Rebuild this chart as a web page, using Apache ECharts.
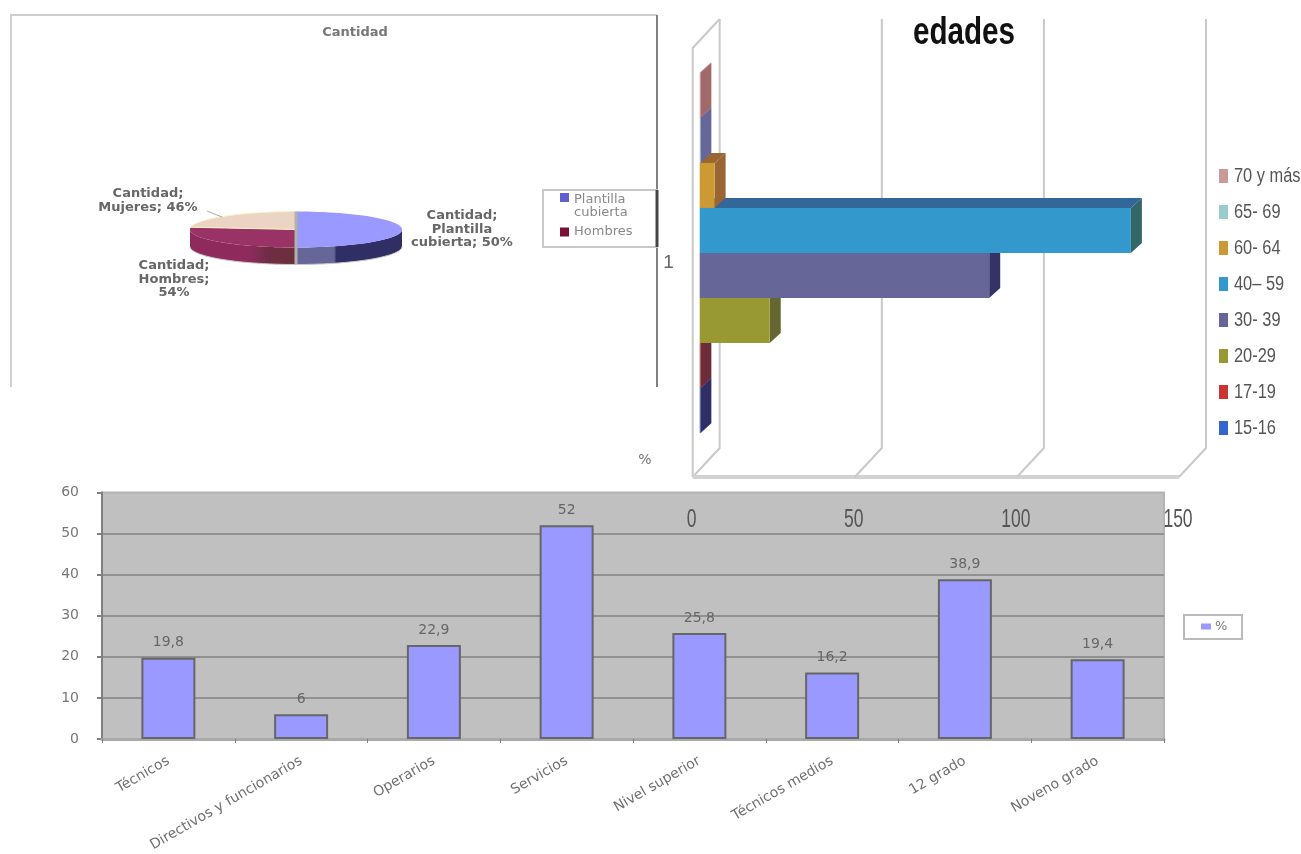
<!DOCTYPE html>
<html>
<head>
<meta charset="utf-8">
<title>Plantilla</title>
<style>html,body{margin:0;padding:0;background:#fff}#c{width:1301px;height:854px}</style>
<script src="https://cdn.jsdelivr.net/npm/echarts@6/dist/echarts.min.js"></script>
</head>
<body>
<div id="c"></div>
<script>
// Pie: staff covered is a share of the whole; men and women split the remainder
const pieNames = ['Plantilla cubierta', 'Hombres', 'Mujeres'];
const piePercent = [50, 54, 46];

// Age groups, drawn from the bottom of the stack upwards
const ageGroups = ['15-16', '17-19', '20-29', '30- 39', '40– 59', '60- 64', '65- 69', '70 y más'];
const ageValues = [0.2, 0.2, 21.6, 89.3, 133, 4.6, 0.2, 0.2];
const ageCategory = ['1'];
const ageTicks = [0, 50, 100, 150];

// Workforce percentages
const staffCategories = ['Técnicos', 'Directivos y funcionarios', 'Operarios', 'Servicios',
  'Nivel superior', 'Técnicos medios', '12 grado', 'Noveno grado'];
const staffValues = [19.8, 6, 22.9, 52, 25.8, 16.2, 38.9, 19.4];

const ageFront = ['#3366cc', '#cc3333', '#999933', '#666699', '#3399cc', '#cc9933', '#99cccc', '#cc9999'];
const ageSide = ['#2f2f66', '#6b2d3a', '#666633', '#333366', '#336666', '#996633', '#666699', '#a06a6a'];
const ageTop = ['#2f2f66', '#6b2d3a', '#666633', '#333366', '#336699', '#996633', '#666699', '#a06a6a'];

const SANS = '"Liberation Sans",sans-serif';
const WIDE = '"DejaVu Sans",sans-serif';
const DEPTH = { dx: 27, dy: -29 };
const BAR = { inset: 7, lift: 9.5, dx: 11, dy: -10, fill: 0.84 };
const AGE_KEY = { x: 1234, top: 176, step: 36, scale: 0.82 };

// Sweep of each slice as a fraction of the full turn
function pieFractions() {
  const whole = piePercent[0] / 100;
  const rest = 1 - whole;
  const split = piePercent[1] + piePercent[2];
  return [whole, rest * piePercent[1] / split, rest * piePercent[2] / split];
}
const PIE = { cx: 296, cy: 229.5, rx: 106, ry: 18, h: 17 };
const pieLabels = [
  { text: 'Cantidad;\nPlantilla\ncubierta; ' + piePercent[0] + '%', dx: 166, dy: 0 },
  { text: 'Cantidad;\nHombres;\n' + piePercent[1] + '%', dx: -122, dy: 50 },
  { text: 'Cantidad;\nMujeres; ' + piePercent[2] + '%', dx: -148, dy: -29 }
];
const pieTop = ['#9999ff', '#993366', '#ecd4c4'];

function ellipsePoint(t, dropY) {
  const a = t * Math.PI * 2;
  return [PIE.cx + PIE.rx * Math.sin(a), PIE.cy - PIE.ry * Math.cos(a) + (dropY || 0)];
}

function sideFill(i) {
  if (i === 0) {
    return new echarts.graphic.LinearGradient(0, 0, 1, 0, [
      { offset: 0, color: '#666699' }, { offset: 0.36, color: '#666699' },
      { offset: 0.38, color: '#2f2f66' }, { offset: 1, color: '#2f2f66' }]);
  }
  return new echarts.graphic.LinearGradient(0, 0, 1, 0, [
    { offset: 0, color: '#8f2b5c' }, { offset: 0.55, color: '#8f2b5c' },
    { offset: 0.75, color: '#6f2d45' }, { offset: 1, color: '#6b2f3a' }]);
}

function renderSlice(params) {
  const i = params.seriesIndex - pieSeriesStart;
  const fr = pieFractions();
  let start = 0;
  for (let k = 0; k < i; k++) start += fr[k];
  const end = start + fr[i];
  const children = [];
  const steps = 60;
  const arc = [];
  for (let s = 0; s <= steps; s++) arc.push(start + (end - start) * s / steps);

  // Rim of the disc: only the part of the arc facing the viewer
  const front = arc.filter(t => t >= 0.25 && t <= 0.75);
  if (front.length > 1) {
    const pts = front.map(t => ellipsePoint(t, 0))
      .concat(front.slice().reverse().map(t => ellipsePoint(t, PIE.h)));
    children.push({ type: 'polygon', shape: { points: pts }, style: { fill: sideFill(i) } });
    children.push({
      type: 'polyline',
      shape: { points: front.map(t => ellipsePoint(t, PIE.h)) },
      style: { fill: 'none', stroke: '#c8c8c8', lineWidth: 1 }
    });
  }
  const top = [[PIE.cx, PIE.cy]].concat(arc.map(t => ellipsePoint(t, 0)));
  children.push({ type: 'polygon', shape: { points: top }, style: { fill: pieTop[i], stroke: i === 2 ? '#fbf3c4' : 'none', lineWidth: 1 } });

  // Seam between the covered half and the rest of the disc
  if (i === 2) {
    children.push({
      type: 'line',
      shape: { x1: PIE.cx, y1: PIE.cy - PIE.ry, x2: PIE.cx, y2: PIE.cy + PIE.ry + PIE.h },
      style: { stroke: '#b2b2aa', lineWidth: 3 }
    });
    children.push({
      type: 'line',
      shape: { x1: 207, y1: 211, x2: 222, y2: 217 },
      style: { stroke: '#aaaaaa', lineWidth: 1 }
    });
  }
  const lab = pieLabels[i];
  children.push({
    type: 'text',
    style: {
      text: lab.text, x: PIE.cx + lab.dx, y: PIE.cy + lab.dy, align: 'center', verticalAlign: 'middle',
      font: 'bold 13px ' + WIDE, fill: '#666666', lineHeight: 13.5
    }
  });
  return { type: 'group', children };
}

// Back wall and floor of the bar box, one element per tick of the value axis.
// The tick labels are condensed here because no narrow face is installed.
function renderWall(params, api) {
  const v = api.value(0);
  const x = api.coord([v, 0])[0];
  const cs = params.coordSys;
  const top = cs.y, bottom = cs.y + cs.height;
  const stroke = { stroke: '#c9c9c9', lineWidth: 2, fill: 'none' };
  const children = [{
    type: 'polyline',
    shape: { points: [[x, bottom], [x + DEPTH.dx, bottom + DEPTH.dy], [x + DEPTH.dx, top + DEPTH.dy]] },
    style: stroke
  }, {
    type: 'text', x: x - 1, y: bottom + 43, scaleX: 0.7,
    style: { text: String(v), align: 'center', verticalAlign: 'middle', font: '25px ' + SANS, fill: '#555555' }
  }];
  if (v === 0) {
    children.push({
      type: 'polyline',
      shape: { points: [[x + DEPTH.dx, top + DEPTH.dy], [x, top], [x, bottom]] },
      style: stroke
    });
    children.push({
      type: 'line',
      shape: { x1: x, y1: bottom, x2: api.coord([ageTicks[ageTicks.length - 1], 0])[0], y2: bottom },
      style: { stroke: '#d2d2d2', lineWidth: 4 }
    });
  }
  return { type: 'group', children };
}

function renderAgeBar(params, api) {
  const i = params.seriesIndex - ageSeriesStart;
  const n = ageGroups.length;
  const zero = api.coord([0, 0]);
  const end = api.coord([api.value(0), 0]);
  const slot = api.size([0, 1])[1] * BAR.fill / n;
  const mid = zero[1] - BAR.lift;
  const y0 = mid + slot * (n / 2 - i - 1);
  const y1 = y0 + slot;
  const x0 = zero[0] + BAR.inset;
  const x1 = end[0] + BAR.inset;
  return {
    type: 'group',
    children: [
      { type: 'polygon', shape: { points: [[x0, y0], [x0 + BAR.dx, y0 + BAR.dy], [x1 + BAR.dx, y0 + BAR.dy], [x1, y0]] }, style: { fill: ageTop[i] } },
      { type: 'polygon', shape: { points: [[x1, y0], [x1 + BAR.dx, y0 + BAR.dy], [x1 + BAR.dx, y1 + BAR.dy], [x1, y1]] }, style: { fill: ageSide[i] } },
      { type: 'rect', shape: { x: x0, y: y0, width: x1 - x0, height: slot }, style: { fill: ageFront[i] } },
      {
        type: 'text', x: AGE_KEY.x, y: AGE_KEY.top + AGE_KEY.step * (n - 1 - i), scaleX: AGE_KEY.scale,
        style: { text: ageGroups[i], align: 'left', verticalAlign: 'middle', font: '20px ' + SANS, fill: '#555555' }
      }
    ]
  };
}

const series = [];

series.push({
  name: '%', type: 'bar', xAxisIndex: 0, yAxisIndex: 0, data: staffValues, barWidth: 54, z: 3,
  itemStyle: { color: '#9999ff', borderColor: '#666666', borderWidth: 2 },
  label: {
    show: true, position: 'top', distance: 8, color: '#666', fontFamily: WIDE, fontSize: 14,
    formatter: p => String(p.value).replace('.', ',')
  }
});

series.push({
  name: 'muros', type: 'custom', xAxisIndex: 1, yAxisIndex: 1, coordinateSystem: 'cartesian2d',
  renderItem: renderWall, data: ageTicks.map(t => [t, 0]), encode: { x: 0, y: 1 }, clip: false, z: 4, silent: true
});

const ageSeriesStart = series.length;
ageGroups.forEach((name, i) => {
  series.push({
    name, type: 'custom', xAxisIndex: 1, yAxisIndex: 1, coordinateSystem: 'cartesian2d',
    renderItem: renderAgeBar, data: [[ageValues[i], 0]], encode: { x: 0, y: 1 }, clip: false,
    z: 5 + i, itemStyle: { color: ageFront[i] }
  });
});

const pieSeriesStart = series.length;
pieNames.forEach((name, i) => {
  series.push({
    name, type: 'custom', coordinateSystem: 'none', renderItem: renderSlice,
    data: [[piePercent[i]]], z: 20 + i, itemStyle: { color: i === 0 ? '#5f5fd0' : '#7a1035' }
  });
});

const option = {
  animation: false,
  backgroundColor: '#ffffff',
  title: [
    { text: 'Cantidad', left: 350, top: 21, textAlign: 'center', textStyle: { fontFamily: WIDE, fontWeight: 'bold', fontSize: 13, color: '#777' } },
    { text: '%', left: 640, top: 448, textAlign: 'center', textStyle: { fontFamily: WIDE, fontWeight: 'normal', fontSize: 14, color: '#777' } }
  ],
  legend: [
    {
      data: ageGroups.slice().reverse(), orient: 'vertical', left: 1219, top: 169, selectedMode: false,
      itemWidth: 9, itemHeight: 14, itemGap: 22, padding: 0, icon: 'rect',
      formatter: () => '',
      textStyle: { fontSize: 1 }
    },
    {
      data: ['%'], orient: 'horizontal', left: 1201, top: 620, selectedMode: false,
      itemWidth: 10, itemHeight: 6, padding: 0, icon: 'rect',
      itemStyle: { borderWidth: 0 },
      textStyle: { fontFamily: WIDE, fontSize: 13, color: '#777', padding: [0, 0, 0, -1] }
    },
    {
      data: [
        { name: 'Plantilla cubierta', icon: 'path://M0 0H9V9H0Z M0 26H0.01V26.01H0Z' },
        { name: 'Hombres', icon: 'path://M0 8.5H9V17.5H0Z M0 0H0.01V0.01H0Z M0 26H0.01V26.01H0Z' }
      ],
      orient: 'vertical', left: 560, top: 193, selectedMode: false,
      itemWidth: 9, itemHeight: 26, itemGap: 0, padding: 0,
      formatter: n => n.replace(' ', '\n'),
      textStyle: { fontFamily: WIDE, fontSize: 13, color: '#888888', lineHeight: 13 }
    }
  ],
  grid: [
    {
      left: 102, top: 492.5, width: 1062, height: 247.5, show: true, backgroundColor: '#c0c0c0',
      borderColor: '#b4b4b4', borderWidth: 2
    },
    { left: 692.7, top: 48, width: 486.3, height: 429, show: false }
  ],
  xAxis: [
    {
      type: 'category', gridIndex: 0, data: staffCategories, z: 2,
      axisLine: { lineStyle: { color: '#a9a9a9', width: 3 } },
      axisTick: { show: true, length: 4, lineStyle: { color: '#808080', width: 1 } },
      axisLabel: { interval: 0, rotate: 30, margin: 21, color: '#707070', fontFamily: WIDE, fontSize: 14 }
    },
    {
      type: 'value', gridIndex: 1, min: 0, max: 150, interval: 50,
      axisLine: { show: false }, axisTick: { show: false }, splitLine: { show: false },
      axisLabel: { show: false }
    }
  ],
  yAxis: [
    {
      type: 'value', gridIndex: 0, min: 0, max: 60, interval: 10,
      axisLine: { show: true, lineStyle: { color: '#808080', width: 2 } },
      axisTick: { show: true, length: 5, lineStyle: { color: '#808080', width: 2 } },
      axisLabel: { margin: 23, color: '#777', fontFamily: WIDE, fontSize: 14 },
      splitLine: { show: true, showMinLine: false, showMaxLine: false, lineStyle: { color: '#919191', width: 2 } }
    },
    {
      type: 'category', gridIndex: 1, data: ageCategory,
      axisLine: { show: false }, axisTick: { show: false }, splitLine: { show: false },
      axisLabel: { margin: 19, color: '#666', fontFamily: SANS, fontSize: 19 }
    }
  ],
  graphic: [
    // Frame of the pie panel and its legend box
    { type: 'polyline', z: 1, shape: { points: [[11, 387], [11, 15], [657, 15]] }, style: { fill: 'none', stroke: '#cfcfcf', lineWidth: 2 } },
    { type: 'line', z: 2, shape: { x1: 657, y1: 15, x2: 657, y2: 387 }, style: { stroke: '#808080', lineWidth: 2 } },
    { type: 'rect', z: 2, shape: { x: 543, y: 190, width: 114, height: 57 }, style: { fill: '#fff', stroke: '#c8c8c8', lineWidth: 2 } },
    { type: 'line', z: 3, shape: { x1: 657, y1: 190, x2: 657, y2: 247 }, style: { stroke: '#444', lineWidth: 3 } },
    { type: 'rect', z: 2, shape: { x: 1184, y: 615, width: 58, height: 24 }, style: { fill: '#fff', stroke: '#bbb', lineWidth: 2 } },
    // Title of the age chart, condensed to the width of its panel heading
    {
      type: 'text', z: 30, x: 964, y: 33, scaleX: 0.76,
      style: { text: 'edades', align: 'center', verticalAlign: 'middle', font: 'bold 39px ' + SANS, fill: '#111111' }
    }
  ],
  series
};

const chart = echarts.init(document.getElementById('c'), null, { renderer: 'canvas' });
chart.setOption(option);
</script>
</body>
</html>
